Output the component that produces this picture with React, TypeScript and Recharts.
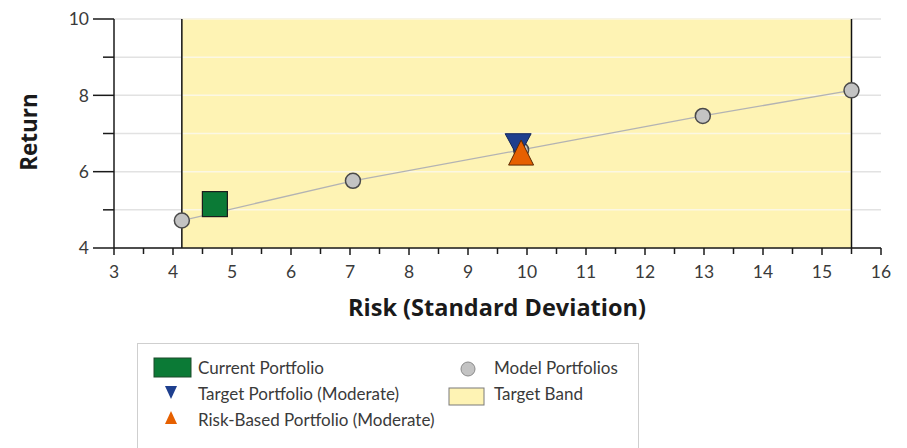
import React from 'react';
import {
  ScatterChart, Scatter, XAxis, YAxis, CartesianGrid, ReferenceArea, ReferenceLine,
} from 'recharts';

const X_TICKS = [3, 3.5, 4, 4.5, 5, 5.5, 6, 6.5, 7, 7.5, 8, 8.5, 9, 9.5, 10, 10.5, 11, 11.5, 12, 12.5, 13, 13.5, 14, 14.5, 15, 15.5, 16];
const Y_TICKS = [4, 5, 6, 7, 8, 9, 10];
const Y_LABELED = [4, 6, 8, 10];

const MODEL_RISK = [4.15, 7.05, 9.9, 12.98, 15.5];
const MODEL_RETURN = [4.72, 5.76, 6.57, 7.46, 8.13];

const CURRENT = [{ risk: 4.71, ret: 5.15 }];
const TARGET = [{ risk: 9.85, ret: 6.68 }];
const RISK_BASED = [{ risk: 9.9, ret: 6.5 }];

const TARGET_BAND = [4.15, 15.5];

const modelData = MODEL_RISK.map((r, i) => ({ risk: r, ret: MODEL_RETURN[i] }));

const FONT = 'Lato, "Open Sans", sans-serif';
const TITLE_FONT = '"Open Sans", sans-serif';
const TXT = '#3a3a3a';

const XTick = (p: any) => {
  const v = p.payload.value;
  const axisY = p.y - 10;
  const major = Number.isInteger(v);
  return (
    <g>
      <line x1={p.x} x2={p.x} y1={axisY} y2={axisY + (major ? 7 : 6)} stroke="#1a1a1a" strokeWidth={1.5} />
      {major && (
        <text x={p.x} y={278} textAnchor="middle" fontSize={17.5} fontFamily={FONT} fill={TXT}>{v}</text>
      )}
    </g>
  );
};

const YTick = (p: any) => {
  const v = p.payload.value;
  const axisX = p.x + 24;
  const major = Y_LABELED.includes(v);
  return (
    <g>
      <line x1={axisX - (major ? 21 : 11)} x2={axisX} y1={p.y} y2={p.y} stroke="#1a1a1a" strokeWidth={1.5} />
      {major && (
        <text x={p.x - 1} y={p.y} dy="0.36em" textAnchor="end" fontSize={17.5} fontFamily={FONT} fill={TXT}>{v}</text>
      )}
    </g>
  );
};

const ModelDot = (p: any) => (
  <circle cx={p.cx} cy={p.cy} r={7.5} fill="#c3c3c3" stroke="#4a4a4a" strokeWidth={1.5} />
);
const SquareDot = (p: any) => (
  <rect x={p.cx - 12.5} y={p.cy - 12.5} width={25} height={25} fill="#0b7a36" stroke="#1d1d1d" strokeWidth={1.2} />
);
const DownTri = (p: any) => (
  <path d={`M${p.cx - 13},${p.cy - 12} L${p.cx + 13},${p.cy - 12} L${p.cx},${p.cy + 12} Z`} fill="#1e3f8e" stroke="#14275a" strokeWidth={1} />
);
const UpTri = (p: any) => (
  <path d={`M${p.cx},${p.cy - 12.5} L${p.cx + 12.5},${p.cy + 12.5} L${p.cx - 12.5},${p.cy + 12.5} Z`} fill="#e66000" stroke="#5b2a05" strokeWidth={1} />
);

const Legend = () => {
  const row: React.CSSProperties = { position: 'absolute', fontSize: 17, fontFamily: FONT, color: TXT, lineHeight: '20px', whiteSpace: 'nowrap' };
  return (
    <div style={{ position: 'absolute', left: 137, top: 343, width: 502, height: 120, border: '1px solid #cfcfcf', boxSizing: 'border-box', background: '#fff' }}>
      <svg width={500} height={110} style={{ position: 'absolute', left: 0, top: 0 }}>
        <rect x={16} y={14} width={37} height={19} fill="#0b7a36" stroke="#1d4a2a" />
        <path d="M27,42 L39,42 L33,55 Z" fill="#1e3f8e" />
        <path d="M33,67 L39,80 L27,80 Z" fill="#e66000" />
        <circle cx={330} cy={25} r={7} fill="#c3c3c3" stroke="#8a8a8a" />
        <rect x={311} y={44} width={35} height={17} fill="#fef3b4" stroke="#7a7a7a" />
      </svg>
      <div style={{ ...row, left: 60, top: 14 }}>Current Portfolio</div>
      <div style={{ ...row, left: 60, top: 40 }}>Target Portfolio (Moderate)</div>
      <div style={{ ...row, left: 60, top: 66 }}>Risk-Based Portfolio (Moderate)</div>
      <div style={{ ...row, left: 356, top: 14 }}>Model Portfolios</div>
      <div style={{ ...row, left: 356, top: 40 }}>Target Band</div>
    </div>
  );
};

export default function App() {
  return (
    <div style={{ position: 'absolute', left: 0, top: 0, width: 907, height: 448, overflow: 'hidden', background: '#fff' }}>
      <ScatterChart width={907} height={448} margin={{ top: 19, right: 26, left: 0, bottom: 170 }}>
        <CartesianGrid vertical={false} stroke="#e2e2e2" strokeWidth={1.5} />
        <ReferenceArea x1={TARGET_BAND[0]} x2={TARGET_BAND[1]} y1={4} y2={10} fill="#fef3b4" fillOpacity={1} stroke="none" ifOverflow="extendDomain" />
        {Y_TICKS.slice(1).map((y) => (
          <ReferenceLine key={y} segment={[{ x: TARGET_BAND[0], y }, { x: TARGET_BAND[1], y }]} stroke="#fbf7e4" strokeWidth={1.5} />
        ))}
        {TARGET_BAND.map((x) => (
          <ReferenceLine key={x} x={x} stroke="#111" strokeWidth={1.5} />
        ))}
        <XAxis
          type="number"
          dataKey="risk"
          domain={[3, 16]}
          ticks={X_TICKS}
          interval={0}
          height={30}
          tickSize={6}
          tickMargin={4}
          tickLine={false}
          tick={<XTick />}
          axisLine={{ stroke: '#1a1a1a', strokeWidth: 1.5 }}
          allowDataOverflow
          label={{ content: () => (
            <text x={497} y={316} textAnchor="middle" fontSize={23.5} fontWeight={700} fontFamily={TITLE_FONT} fill="#1a1a1a">Risk (Standard Deviation)</text>
          ) }}
        />
        <YAxis
          type="number"
          dataKey="ret"
          domain={[4, 10]}
          ticks={Y_TICKS}
          interval={0}
          width={114}
          tickSize={21}
          tickMargin={3}
          tickLine={false}
          tick={<YTick />}
          axisLine={{ stroke: '#1a1a1a', strokeWidth: 1.5 }}
          allowDataOverflow
          label={{ content: () => (
            <text x={29} y={132} transform="rotate(-90 29 132)" textAnchor="middle" dy="0.35em" fontSize={22.5} fontWeight={700} fontFamily={TITLE_FONT} fill="#1a1a1a">Return</text>
          ) }}
        />
        <Scatter name="Model Portfolios" data={modelData} line={{ stroke: '#b3b3b3', strokeWidth: 1.3 }} shape={<ModelDot />} isAnimationActive={false} />
        <Scatter name="Current Portfolio" data={CURRENT} shape={<SquareDot />} isAnimationActive={false} />
        <Scatter name="Target Portfolio (Moderate)" data={TARGET} shape={<DownTri />} isAnimationActive={false} />
        <Scatter name="Risk-Based Portfolio (Moderate)" data={RISK_BASED} shape={<UpTri />} isAnimationActive={false} />
      </ScatterChart>
      <Legend />
    </div>
  );
}
